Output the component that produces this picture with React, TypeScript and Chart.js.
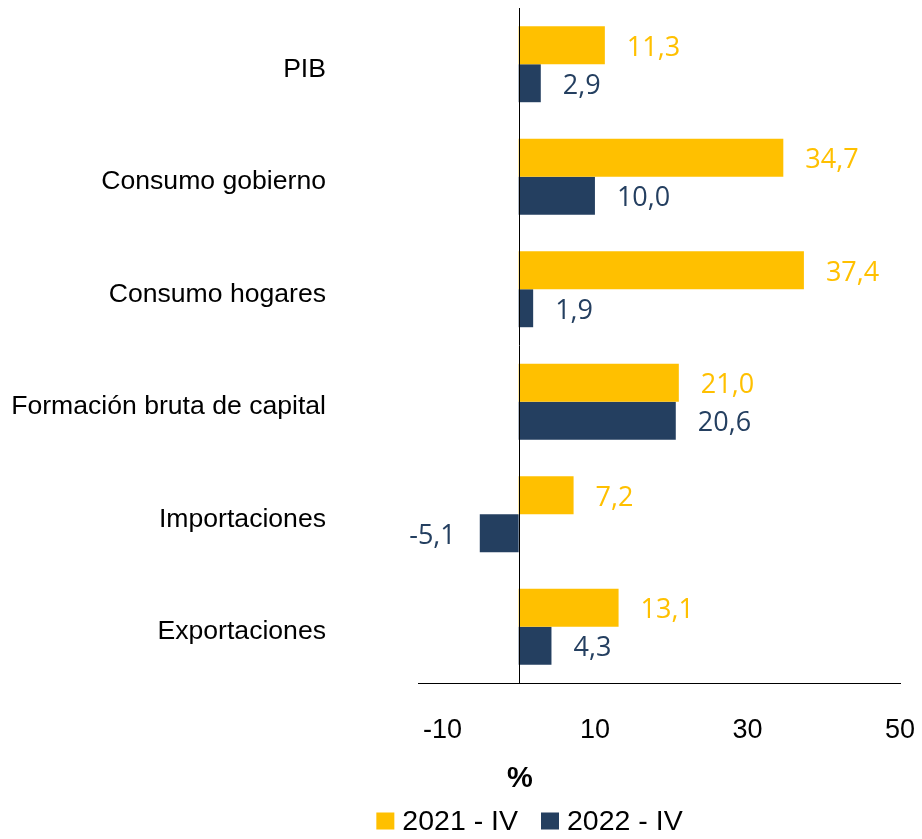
import React, { useEffect, useRef } from "react";
import { Chart, registerables } from "chart.js";

Chart.register(...registerables);

const categories = [
  "PIB",
  "Consumo gobierno",
  "Consumo hogares",
  "Formación bruta de capital",
  "Importaciones",
  "Exportaciones",
];
const series2021 = [11.3, 34.7, 37.4, 21.0, 7.2, 13.1];
const series2022 = [2.9, 10.0, 1.9, 20.6, -5.1, 4.3];
const seriesLabels = ["2021 - IV", "2022 - IV"];
const seriesColors = ["#FFC000", "#243F60"];
const xTicks = [-10, 10, 30, 50];
const axisTitle = "%";

const SANS = "'Liberation Sans', Arial, sans-serif";
const LABEL_FONT = "'Open Sans', 'Noto Sans', sans-serif";

const extrasPlugin = {
  id: "extras",
  afterDatasetsDraw(chart: any) {
    const { ctx, chartArea, scales } = chart;
    const xs = scales.x;
    const x0 = Math.round(xs.getPixelForValue(0)) + 0.5;
    ctx.save();
    ctx.strokeStyle = "#000";
    ctx.lineWidth = 1;
    ctx.beginPath();
    ctx.moveTo(x0, chartArea.top);
    ctx.lineTo(x0, chartArea.bottom);
    ctx.stroke();

    ctx.font = `27px ${LABEL_FONT}`;
    ctx.textBaseline = "middle";
    chart.data.datasets.forEach((ds: any, di: number) => {
      const meta = chart.getDatasetMeta(di);
      meta.data.forEach((el: any, i: number) => {
        const v = ds.data[i] as number;
        const txt = v.toFixed(1).replace(".", ",");
        ctx.fillStyle = ds.backgroundColor;
        if (v >= 0) {
          ctx.textAlign = "left";
          ctx.fillText(txt, el.x + 22, el.y + 3);
        } else {
          ctx.textAlign = "right";
          ctx.fillText(txt, el.x - 24, el.y + 3);
        }
      });
    });
    ctx.restore();
  },
  afterDraw(chart: any) {
    const { ctx } = chart;
    ctx.save();
    // axis title
    ctx.font = `bold 29px ${SANS}`;
    ctx.fillStyle = "#000";
    ctx.textAlign = "center";
    ctx.textBaseline = "alphabetic";
    ctx.fillText(axisTitle, 512, 779);

    // legend
    ctx.font = `28.5px ${SANS}`;
    const boxW = 18;
    const boxH = 17;
    const gap = 8;
    const spacing = 23;
    const items = chart.data.datasets.map((ds: any) => ({
      text: ds.label,
      color: ds.backgroundColor,
      w: ctx.measureText(ds.label).width,
    }));
    const total =
      items.reduce((s: number, it: any) => s + boxW + gap + it.w, 0) +
      spacing * (items.length - 1);
    let x = 521.5 - total / 2;
    const cy = 813;
    ctx.textAlign = "left";
    ctx.textBaseline = "middle";
    items.forEach((it: any) => {
      ctx.fillStyle = it.color;
      ctx.fillRect(x, cy - boxH / 2, boxW, boxH);
      ctx.fillStyle = "#000";
      ctx.fillText(it.text, x + boxW + gap, cy + 1);
      x += boxW + gap + it.w + spacing;
    });
    ctx.restore();
  },
};

export default function App() {
  const canvasRef = useRef<HTMLCanvasElement | null>(null);

  useEffect(() => {
    if (!canvasRef.current) return;
    const chart = new Chart(canvasRef.current, {
      type: "bar",
      data: {
        labels: categories,
        datasets: [
          {
            label: seriesLabels[0],
            data: series2021,
            backgroundColor: seriesColors[0],
            borderWidth: 0,
            barPercentage: 1,
            categoryPercentage: 0.675,
          },
          {
            label: seriesLabels[1],
            data: series2022,
            backgroundColor: seriesColors[1],
            borderWidth: 0,
            barPercentage: 1,
            categoryPercentage: 0.675,
          },
        ],
      },
      options: {
        indexAxis: "y",
        animation: false,
        responsive: true,
        maintainAspectRatio: false,
        layout: { padding: { left: 0, right: 14, top: 0, bottom: 0 } },
        plugins: {
          legend: { display: false },
          tooltip: { enabled: false },
          title: { display: false },
        },
        scales: {
          x: {
            type: "linear",
            position: "bottom",
            min: -13.2,
            max: 50,
            afterBuildTicks: (scale: any) => {
              scale.ticks = xTicks.map((v) => ({ value: v }));
            },
            afterFit: (scale: any) => {
              scale.height = 148;
              scale.paddingLeft = 0;
              scale.paddingRight = 0;
            },
            grid: { display: false, drawTicks: false },
            border: { display: true, color: "#000", width: 1 },
            ticks: {
              autoSkip: false,
              maxRotation: 0,
              padding: 31,
              color: "#000",
              font: { family: SANS, size: 27 },
            },
          },
          y: {
            type: "category",
            afterFit: (scale: any) => {
              scale.width = 410;
              scale.paddingTop = 0;
              scale.paddingBottom = 0;
            },
            grid: { display: false, drawTicks: false },
            border: { display: false },
            ticks: {
              padding: 92,
              labelOffset: 5,
              color: "#000",
              font: { family: SANS, size: 26.6 },
            },
          },
        },
      },
      plugins: [extrasPlugin],
    });
    return () => chart.destroy();
  }, []);

  return (
    <div style={{ position: "relative", width: 906, height: 823 }}>
      <canvas ref={canvasRef} />
    </div>
  );
}
